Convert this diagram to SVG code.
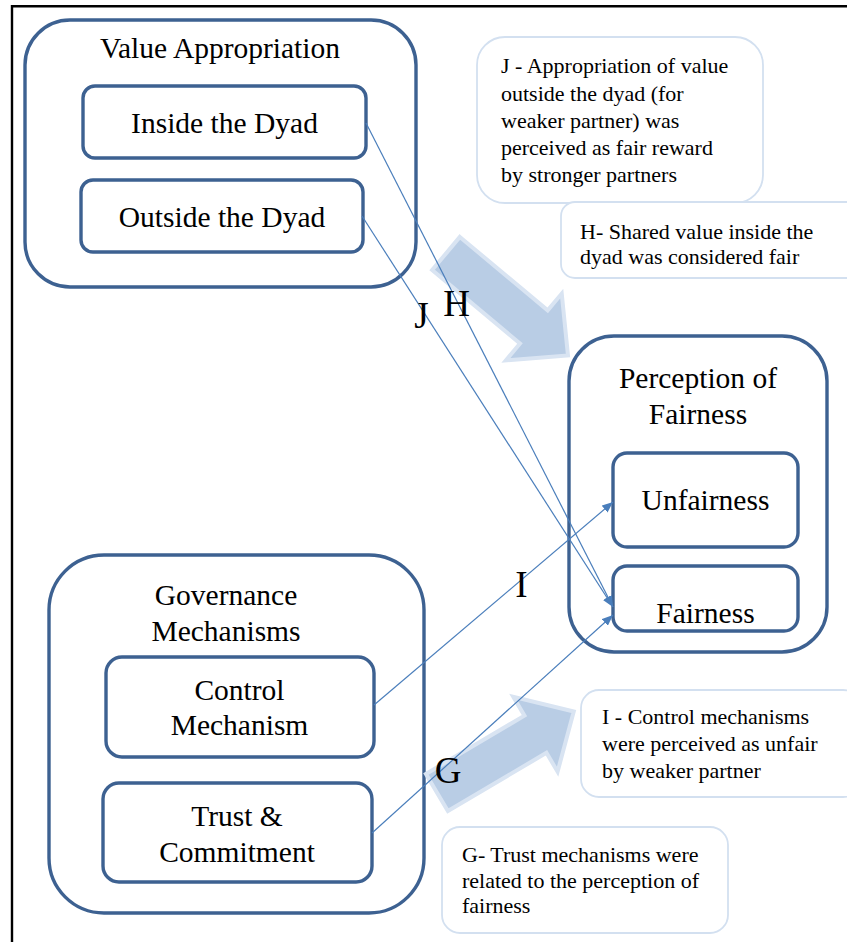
<svg xmlns="http://www.w3.org/2000/svg" width="847" height="942" viewBox="0 0 847 942">
<defs>
<style>
.cont{fill:#fff;stroke:#3d6191;stroke-width:3.4}
.box{fill:#fff;stroke:#3d6191;stroke-width:3.4}
.call{fill:#fff;stroke:#d3e0f0;stroke-width:1.8}
.blk{fill:#b9cde5;stroke:#d9e4f2;stroke-width:4;stroke-linejoin:miter}
text{font-family:"Liberation Serif","Times New Roman",serif;fill:#000}
.lbl{font-size:29.5px;text-anchor:middle}
.ct{font-size:22px}
.big{font-size:37px;text-anchor:middle}
.ln{fill:none;stroke:#4a7ebb;stroke-width:1.2;marker-end:url(#ah)}
</style>
<marker id="ah" markerUnits="userSpaceOnUse" markerWidth="11" markerHeight="9" refX="11" refY="4.5" orient="auto">
<path d="M0,0 L11,4.5 L0,9 z" fill="#4a7ebb"/>
</marker>
</defs>
<rect width="847" height="942" fill="#fff"/>
<path d="M12,942 V6.3 H847" fill="none" stroke="#000" stroke-width="2.4"/>

<g id="value-appropriation">
<rect class="cont" x="25" y="20" width="391" height="267" rx="45"/>
<text class="lbl" x="220" y="58">Value Appropriation</text>
</g>
<g id="inside-dyad">
<rect class="box" x="83" y="86" width="283" height="72" rx="12"/>
<text class="lbl" x="224.5" y="133">Inside the Dyad</text>
</g>
<g id="outside-dyad">
<rect class="box" x="81" y="180" width="282" height="72" rx="12"/>
<text class="lbl" x="222" y="227">Outside the Dyad</text>
</g>

<g id="perception-fairness">
<rect class="cont" x="569" y="336" width="258" height="316" rx="45"/>
<text class="lbl" x="698" y="388">Perception of</text>
<text class="lbl" x="698" y="424">Fairness</text>
</g>
<g id="unfairness">
<rect class="box" x="613" y="453" width="185" height="94" rx="14"/>
<text class="lbl" x="705.5" y="510">Unfairness</text>
</g>
<g id="fairness">
<rect class="box" x="613" y="566" width="185" height="65" rx="14"/>
<text class="lbl" x="705.5" y="623">Fairness</text>
</g>

<g id="governance">
<rect class="cont" x="49" y="555" width="375" height="358" rx="55"/>
<text class="lbl" x="226" y="605">Governance</text>
<text class="lbl" x="226" y="641">Mechanisms</text>
</g>
<g id="control-mechanism">
<rect class="box" x="106" y="657" width="268" height="100" rx="16"/>
<text class="lbl" x="239.5" y="700">Control</text>
<text class="lbl" x="239.5" y="735">Mechanism</text>
</g>
<g id="trust-commitment">
<rect class="box" x="103" y="783" width="269" height="99" rx="16"/>
<text class="lbl" x="237" y="826">Trust &amp;</text>
<text class="lbl" x="237" y="862">Commitment</text>
</g>

<g id="callout-j">
<rect class="call" x="477" y="37" width="286" height="166" rx="28"/>
<text class="ct" x="501" y="73">J - Appropriation of value</text>
<text class="ct" x="501" y="101">outside the dyad (for</text>
<text class="ct" x="501" y="128">weaker partner) was</text>
<text class="ct" x="501" y="155">perceived as fair reward</text>
<text class="ct" x="501" y="182">by stronger partners</text>
</g>
<g id="callout-h">
<rect class="call" x="561" y="202" width="300" height="76" rx="14"/>
<text class="ct" x="580" y="239">H- Shared value inside the</text>
<text class="ct" x="580" y="264">dyad was considered fair</text>
</g>
<g id="callout-i">
<rect class="call" x="581" y="690" width="280" height="107" rx="18"/>
<text class="ct" x="602" y="724">I - Control mechanisms</text>
<text class="ct" x="602" y="751">were perceived as unfair</text>
<text class="ct" x="602" y="778">by weaker partner</text>
</g>
<g id="callout-g">
<rect class="call" x="442" y="827" width="286" height="106" rx="18"/>
<text class="ct" x="462" y="862">G- Trust mechanisms were</text>
<text class="ct" x="462" y="888">related to the perception of</text>
<text class="ct" x="462" y="913">fairness</text>
</g>

<g id="block-arrows">
<polygon class="blk" transform="translate(446,253.5) rotate(39.9)" points="0,-21.6 114.5,-21.6 114.5,-43.5 159,0 114.5,43.5 114.5,21.6 0,21.6"/>
<polygon class="blk" transform="translate(436.9,792.5) rotate(-30.6)" points="0,-21.6 114.5,-21.6 114.5,-43.5 159,0 114.5,43.5 114.5,21.6 0,21.6"/>
</g>

<g id="connectors">
<line class="ln" x1="366" y1="123" x2="613" y2="607"/>
<line class="ln" x1="362" y1="216" x2="613" y2="607"/>
<line class="ln" x1="374" y1="705" x2="613" y2="502"/>
<line class="ln" x1="372" y1="833" x2="613" y2="615"/>
</g>

<g id="labels">
<text class="big" x="421.5" y="328">J</text>
<text class="big" x="456.5" y="316">H</text>
<text class="big" x="521.5" y="597">I</text>
<text class="big" x="448" y="783">G</text>
</g>
</svg>
